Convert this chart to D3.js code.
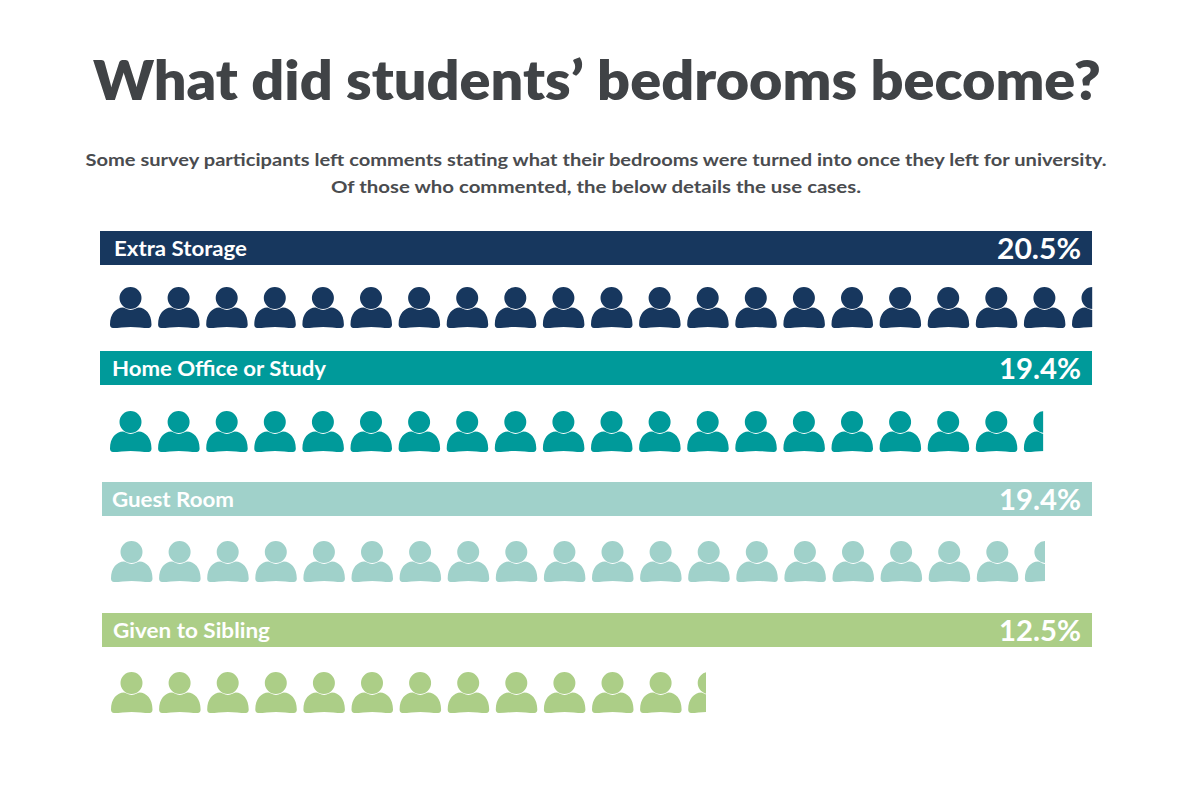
<!DOCTYPE html>
<html>
<head>
<meta charset="utf-8">
<script src="https://cdn.jsdelivr.net/npm/d3@7"></script>
<style>
  html, body { margin: 0; padding: 0; background: #fff; }
  svg { display: block; font-family: Lato, sans-serif; }
</style>
</head>
<body>
<div id="chart"></div>
<script>
//Data
const categories = ['Extra Storage', 'Home Office or Study', 'Guest Room', 'Given to Sibling'];
const percentLabels = ['20.5%', '19.4%', '19.4%', '12.5%'];
// how many person icons each row shows, last one is cut off
const iconCounts = [20.42, 19.4, 19.42, 12.37];
const colors = ['#17375e', '#009a9a', '#a0d1ca', '#acce87'];

const title = 'What did students\u2019 bedrooms become?';
const subtitle = [
  'Some survey participants left comments stating what their bedrooms were turned into once they left for university.',
  'Of those who commented, the below details the use cases.'
];

//Layout
const svg_width = 1188;
const svg_height = 792;
const bar_top = [231, 351, 482, 613];
const bar_left = [100, 100, 102, 102];
const bar_right = 1092;
const bar_height = 34;
const icon_top = [287, 411, 541, 672];
const icon_left = [110, 110, 111, 111];
const label_left = [114, 112, 112, 113];
const label_width = [133, 214, 122, 157];
const percent_width = [84, 82, 82, 82];
const icon_pitch = 48.1;

const svg = d3.select('#chart').append('svg')
  .attr('width', svg_width).attr('height', svg_height);

svg.append('text').text(title)
  .attr('x', 597).attr('y', 100)
  .attr('text-anchor', 'middle')
  .attr('textLength', 1008).attr('lengthAdjust', 'spacingAndGlyphs')
  .style('font-size', '55px').style('font-weight', 800).style('fill', '#404346');

const subWidths = [1021, 530];
svg.selectAll('.subtitle').data(subtitle).join('text')
  .attr('class', 'subtitle')
  .text(d => d)
  .attr('x', 596).attr('y', (d, i) => 166 + i * 27)
  .attr('text-anchor', 'middle')
  .attr('textLength', (d, i) => subWidths[i]).attr('lengthAdjust', 'spacingAndGlyphs')
  .style('font-size', '17.5px').style('font-weight', 700).style('fill', '#4a4c4f');

//one person icon, 41.5 wide and 41 high
function personIcon(){
  const p = d3.path();
  p.moveTo(20.5 + 11, 11);
  p.arc(20.5, 11, 11, 0, Math.PI * 2);
  p.closePath();
  p.moveTo(0, 37.5);
  p.bezierCurveTo(0, 27, 6, 20.8, 13, 20.6);
  p.bezierCurveTo(15, 20.6, 17, 23, 20.7, 23);
  p.bezierCurveTo(24.4, 23, 26.4, 20.6, 28.5, 20.6);
  p.bezierCurveTo(35.5, 20.8, 41.5, 27, 41.5, 37.5);
  p.bezierCurveTo(41.5, 39.8, 40.5, 41, 38.5, 41);
  p.bezierCurveTo(33, 41, 27, 39.9, 20.7, 39.9);
  p.bezierCurveTo(14.5, 39.9, 8.5, 41, 3, 41);
  p.bezierCurveTo(1, 41, 0, 39.8, 0, 37.5);
  p.closePath();
  return p.toString();
}

const defs = svg.append('defs');
const rows = svg.selectAll('.row').data(categories).join('g').attr('class', 'row');

rows.append('rect')
  .attr('x', (d, i) => bar_left[i])
  .attr('y', (d, i) => bar_top[i])
  .attr('width', (d, i) => bar_right - bar_left[i])
  .attr('height', bar_height)
  .style('fill', (d, i) => colors[i]);

rows.append('text').text(d => d)
  .attr('x', (d, i) => label_left[i])
  .attr('y', (d, i) => bar_top[i] + 24.5)
  .attr('textLength', (d, i) => label_width[i]).attr('lengthAdjust', 'spacingAndGlyphs')
  .style('font-size', '21px').style('font-weight', 700).style('fill', '#fff');

rows.append('text').text((d, i) => percentLabels[i])
  .attr('x', 1081)
  .attr('y', (d, i) => bar_top[i] + 28)
  .attr('text-anchor', 'end')
  .attr('textLength', (d, i) => percent_width[i]).attr('lengthAdjust', 'spacingAndGlyphs')
  .style('font-size', '29px').style('font-weight', 700).style('fill', '#fff');

//Icons
rows.each(function(d, i){
  const xScale = d3.scaleLinear()
    .domain([0, 1]).range([icon_left[i], icon_left[i] + icon_pitch]);

  defs.append('clipPath').attr('id', `clip-${i}`)
    .append('rect')
    .attr('x', icon_left[i] - 2)
    .attr('y', icon_top[i] - 2)
    .attr('width', xScale(iconCounts[i]) - icon_left[i] + 2)
    .attr('height', 46);

  d3.select(this).append('g')
    .attr('clip-path', `url(#clip-${i})`)
    .selectAll('path')
    .data(d3.range(Math.ceil(iconCounts[i])))
    .join('path')
    .attr('d', personIcon())
    .attr('transform', n => `translate(${xScale(n)},${icon_top[i]})`)
    .style('fill', colors[i]);
});
</script>
</body>
</html>
